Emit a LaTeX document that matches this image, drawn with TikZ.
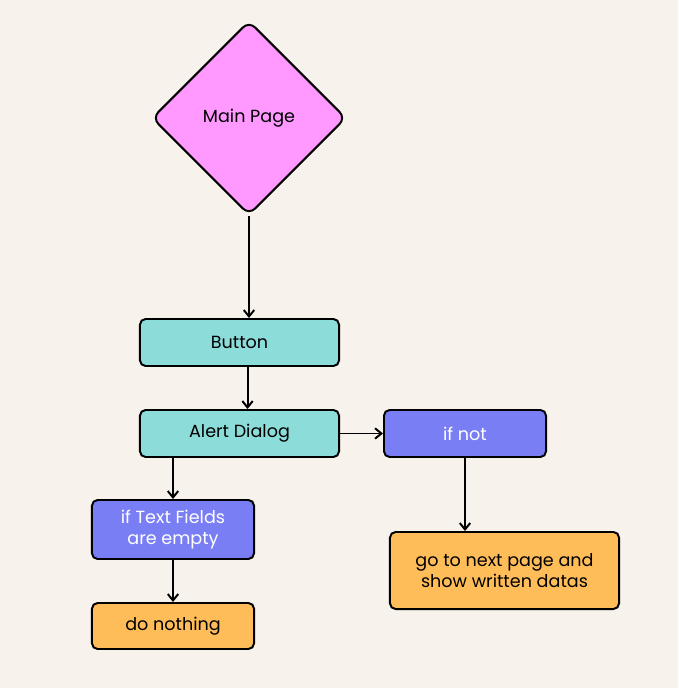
\documentclass[tikz,border=0pt]{standalone}
\usepackage{fontspec}
\setmainfont{Poppins}
\usetikzlibrary{arrows.meta,positioning,shapes.geometric}
\definecolor{bgcol}{HTML}{F7F2EB}
\definecolor{pinkcol}{HTML}{FF99FF}
\definecolor{tealcol}{HTML}{8CDCDA}
\definecolor{violetcol}{HTML}{7A7EF5}
\definecolor{orangecol}{HTML}{FFBD59}
\begin{document}
\begin{tikzpicture}[
        x=0.025cm, y=-0.025cm,
        font=\fontsize{12.5}{15.5}\selectfont,
        decision/.style={
            draw, diamond, fill=pinkcol, line width=1.4pt,
            rounded corners=6pt, inner sep=0pt,
            minimum width=4.85cm, minimum height=4.85cm
        },
        box/.style={
            draw, rounded corners=4pt, align=center, line width=1.4pt,
            minimum height=1.175cm
        },
        arrow/.style={-{Straight Barb[length=1.6mm,width=2.6mm]}, line width=1.4pt}
        ]

        % --- Background ---
        \fill[bgcol] (0,0) rectangle (678,688);
        \useasboundingbox (0,0) rectangle (678,688);

        % --- Top: main page ---
        \node[decision] (main) at (249, 118) {Main Page};

        % --- Middle column ---
        \node[box, fill=tealcol, minimum width=4.975cm] (button) at (239.5, 342.5)
        {Button};
        \node[box, fill=tealcol, minimum width=4.975cm] (alert) at (239.5, 433.5)
        {Alert Dialog};

        % --- Branches ---
        \node[box, fill=violetcol, text=white, minimum width=4.05cm] (ifnot) at (465, 433.5)
        {if not};
        \node[box, fill=violetcol, text=white, minimum width=4.05cm,
              minimum height=1.475cm] (empty) at (173, 529.5)
        {if Text Fields\\are empty};

        % --- Results ---
        \node[box, fill=orangecol, minimum width=4.05cm, minimum height=1.15cm] (nothing) at (173, 626)
        {do nothing};
        \node[box, fill=orangecol, minimum width=5.725cm, minimum height=1.925cm] (next) at (504.5, 570.5)
        {go to next page and\\[-1pt]show written datas};

        % --- Arrows ---
        \draw[arrow] (main.south) -- (main.south |- button.north);
        \draw[arrow] ([xshift=5.7pt]button.south) -- ([xshift=5.7pt]button.south |- alert.north);
        \draw[arrow] (alert.east) -- (ifnot.west);
        \draw[arrow] (alert.south -| empty.north) -- (empty.north);
        \draw[arrow] (empty.south) -- (nothing.north);
        \draw[arrow] (ifnot.south) -- (ifnot.south |- next.north);

    \end{tikzpicture}
\end{document}
